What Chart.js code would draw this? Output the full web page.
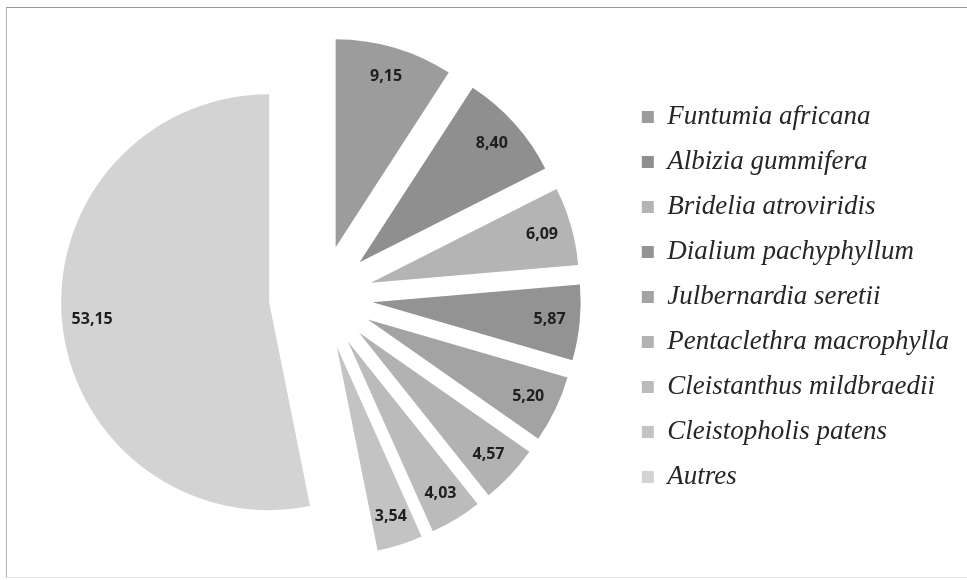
<!DOCTYPE html>
<html>
<head>
<meta charset="utf-8">
<script src="https://cdn.jsdelivr.net/npm/chart.js@4/dist/chart.umd.min.js"></script>
<style>
  html, body { margin: 0; padding: 0; background: #fff; }
  #wrap { position: relative; width: 967px; height: 580px; }
  #frame {
    position: absolute; left: 6px; top: 7px; width: 961px; height: 571px;
    border-top: 1px solid #9a9a9a; border-left: 1px solid #b5b5b5; border-bottom: 1px solid #e2e2e2;
    box-sizing: border-box; pointer-events: none;
  }
</style>
</head>
<body>
<div id="wrap">
  <canvas id="speciesChart"></canvas>
  <div id="frame"></div>
</div>
<script>
// species share (%)
const species = [
  "Funtumia africana",
  "Albizia gummifera",
  "Bridelia atroviridis",
  "Dialium pachyphyllum",
  "Julbernardia seretii",
  "Pentaclethra macrophylla",
  "Cleistanthus mildbraedii",
  "Cleistopholis patens",
  "Autres",
];
const shares = [9.15, 8.40, 6.09, 5.87, 5.20, 4.57, 4.03, 3.54, 53.15];
const greys = [
  "#9c9c9c", "#8f8f8f", "#b4b4b4", "#939393", "#a3a3a3",
  "#b2b2b2", "#bbbbbb", "#c3c3c3", "#d3d3d3",
];

const RADIUS = 208;
const EXPLODE = 52; // px every slice is pulled out

// excel style explode: move each slice along its bisector, same radius for all
const explodeSlices = {
  id: "explodeSlices",
  beforeDatasetsDraw(chart) {
    const { left, right, top, bottom } = chart.chartArea;
    const cx = (left + right) / 2;
    const cy = (top + bottom) / 2;
    chart.getDatasetMeta(0).data.forEach((arc) => {
      const mid = (arc.startAngle + arc.endAngle) / 2;
      arc.x = cx + Math.cos(mid) * EXPLODE;
      arc.y = cy + Math.sin(mid) * EXPLODE;
    });
  },
};

const sliceLabels = {
  id: "sliceLabels",
  afterDatasetsDraw(chart) {
    const ctx = chart.ctx;
    const meta = chart.getDatasetMeta(0);
    ctx.save();
    ctx.font = "bold 16px 'Open Sans', 'Liberation Sans', sans-serif";
    ctx.fillStyle = "#1e1e1e";
    ctx.textAlign = "center";
    ctx.textBaseline = "middle";
    meta.data.forEach((arc, i) => {
      const mid = (arc.startAngle + arc.endAngle) / 2;
      const r = RADIUS * 0.855;
      ctx.fillText(shares[i].toFixed(2).replace(".", ","),
        arc.x + Math.cos(mid) * r, arc.y + Math.sin(mid) * r);
    });
    ctx.restore();
  },
};

new Chart(document.getElementById("speciesChart"), {
  type: "pie",
  data: {
    labels: species,
    datasets: [
      {
        data: shares,
        backgroundColor: greys,
        borderWidth: 0,
        hoverOffset: 0,
      },
    ],
  },
  options: {
    responsive: true,
    maintainAspectRatio: false,
    animation: false,
    radius: RADIUS,
    layout: { padding: { left: 18, top: 14, right: 8, bottom: 0 } },
    plugins: {
      tooltip: { enabled: false },
      legend: {
        position: "right",
        labels: {
          boxWidth: 12,
          boxHeight: 12,
          padding: 18,
          color: "#262626",
          font: {
            family: "'Liberation Serif', 'Times New Roman', serif",
            style: "italic",
            size: 27,
          },
        },
      },
    },
  },
  plugins: [explodeSlices, sliceLabels],
});
</script>
</body>
</html>
